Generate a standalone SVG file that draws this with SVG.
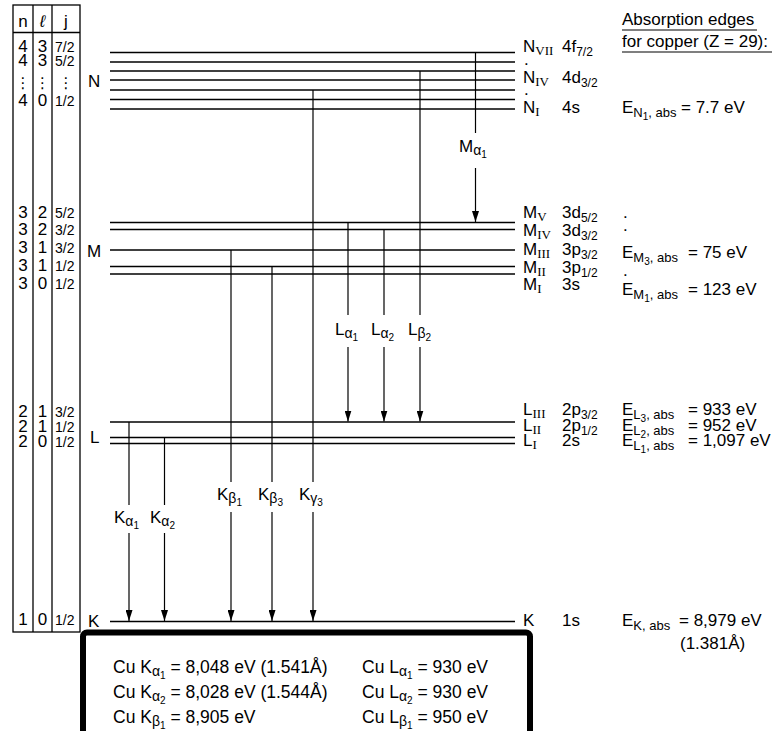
<svg xmlns="http://www.w3.org/2000/svg" width="777" height="731" viewBox="0 0 777 731">
<defs>
<style>
text{font-family:"Liberation Sans",Arial,"DejaVu Sans",sans-serif;font-size:17px;fill:#000}
.j{font-size:14px}
.d{font-size:15px;font-family:"DejaVu Sans",sans-serif}
.r{font-family:"Liberation Serif","Times New Roman",serif;font-size:13px}
.s{font-size:12px}
.e{font-size:13px}
.g{font-size:14px}
.ss{font-size:10px}
.bx{font-size:17.5px}
.lv{stroke:#000;stroke-width:1.3}
.tb{stroke:#000;stroke-width:1.3;fill:none}
.ar{stroke:#000;stroke-width:1.2;fill:none}
</style>
<marker id="ah" markerUnits="userSpaceOnUse" markerWidth="11" markerHeight="7" refX="11" refY="3.5" orient="auto">
<path d="M0,0 L11,3.5 L0,7 z" fill="#000"/>
</marker>
</defs>
<rect width="777" height="731" fill="#fff"/>

<g id="table">
<rect class="tb" x="13" y="5" width="67" height="627"/>
<line class="tb" x1="33" y1="5" x2="33" y2="632"/>
<line class="tb" x1="52" y1="5" x2="52" y2="632"/>
<line class="tb" x1="13" y1="32.5" x2="80" y2="32.5"/>
<text x="23" y="27" text-anchor="middle">n</text>
<text x="42.5" y="27" text-anchor="middle" font-style="italic">ℓ</text>
<text x="66" y="27" text-anchor="middle">j</text>
<!-- N -->
<text x="23" y="52" text-anchor="middle">4</text><text x="42.5" y="52" text-anchor="middle">3</text><text class="j" x="55" y="52">7/2</text>
<text x="23" y="66" text-anchor="middle">4</text><text x="42.5" y="66" text-anchor="middle">3</text><text class="j" x="55" y="66">5/2</text>
<text class="d" x="23" y="88" text-anchor="middle">⋮</text><text class="d" x="42.5" y="88" text-anchor="middle">⋮</text><text class="d" x="66" y="88" text-anchor="middle">⋮</text>
<text x="23" y="106" text-anchor="middle">4</text><text x="42.5" y="106" text-anchor="middle">0</text><text class="j" x="55" y="106">1/2</text>
<!-- M -->
<text x="23" y="218" text-anchor="middle">3</text><text x="42.5" y="218" text-anchor="middle">2</text><text class="j" x="55" y="218">5/2</text>
<text x="23" y="235" text-anchor="middle">3</text><text x="42.5" y="235" text-anchor="middle">2</text><text class="j" x="55" y="235">3/2</text>
<text x="23" y="253" text-anchor="middle">3</text><text x="42.5" y="253" text-anchor="middle">1</text><text class="j" x="55" y="253">3/2</text>
<text x="23" y="271" text-anchor="middle">3</text><text x="42.5" y="271" text-anchor="middle">1</text><text class="j" x="55" y="271">1/2</text>
<text x="23" y="289" text-anchor="middle">3</text><text x="42.5" y="289" text-anchor="middle">0</text><text class="j" x="55" y="289">1/2</text>
<!-- L -->
<text x="23" y="417" text-anchor="middle">2</text><text x="42.5" y="417" text-anchor="middle">1</text><text class="j" x="55" y="417">3/2</text>
<text x="23" y="432" text-anchor="middle">2</text><text x="42.5" y="432" text-anchor="middle">1</text><text class="j" x="55" y="432">1/2</text>
<text x="23" y="447" text-anchor="middle">2</text><text x="42.5" y="447" text-anchor="middle">0</text><text class="j" x="55" y="447">1/2</text>
<!-- K -->
<text x="23" y="625" text-anchor="middle">1</text><text x="42.5" y="625" text-anchor="middle">0</text><text class="j" x="55" y="625">1/2</text>
</g>

<g id="shell-labels">
<text x="88" y="87">N</text>
<text x="87" y="257">M</text>
<text x="90" y="443">L</text>
<text x="88" y="627">K</text>
</g>

<g id="levels">
<line class="lv" x1="110" y1="52.5" x2="515" y2="52.5"/>
<line class="lv" x1="110" y1="62" x2="515" y2="62"/>
<line class="lv" x1="110" y1="71" x2="515" y2="71"/>
<line class="lv" x1="110" y1="80" x2="515" y2="80"/>
<line class="lv" x1="110" y1="90" x2="515" y2="90"/>
<line class="lv" x1="110" y1="99.5" x2="515" y2="99.5"/>
<line class="lv" x1="110" y1="109" x2="515" y2="109"/>
<line class="lv" x1="110" y1="222.5" x2="515" y2="222.5"/>
<line class="lv" x1="110" y1="229.5" x2="515" y2="229.5"/>
<line class="lv" x1="110" y1="250" x2="515" y2="250"/>
<line class="lv" x1="110" y1="266.5" x2="515" y2="266.5"/>
<line class="lv" x1="110" y1="274" x2="515" y2="274"/>
<line class="lv" x1="110" y1="422" x2="515" y2="422"/>
<line class="lv" x1="110" y1="437.5" x2="515" y2="437.5"/>
<line class="lv" x1="110" y1="443.5" x2="515" y2="443.5"/>
<line class="lv" x1="110" y1="621.5" x2="515" y2="621.5"/>
</g>

<g id="level-labels">
<text x="523" y="52">N<tspan class="r" dy="3">VII</tspan><tspan dy="-3" x="562">4f</tspan><tspan class="s" dy="4">7/2</tspan></text>
<text x="524" y="65" font-size="9">.</text>
<text x="523" y="83">N<tspan class="r" dy="3">IV</tspan><tspan dy="-3" x="562">4d</tspan><tspan class="s" dy="4">3/2</tspan></text>
<text x="524" y="95" font-size="9">.</text>
<text x="523" y="113">N<tspan class="r" dy="3">I</tspan><tspan dy="-3" x="562">4s</tspan></text>

<text x="523" y="218">M<tspan class="r" dy="3">V</tspan><tspan dy="-3" x="562">3d</tspan><tspan class="s" dy="4">5/2</tspan></text>
<text x="523" y="236">M<tspan class="r" dy="3">IV</tspan><tspan dy="-3" x="562">3d</tspan><tspan class="s" dy="4">3/2</tspan></text>
<text x="523" y="255">M<tspan class="r" dy="3">III</tspan><tspan dy="-3" x="562">3p</tspan><tspan class="s" dy="4">3/2</tspan></text>
<text x="523" y="273">M<tspan class="r" dy="3">II</tspan><tspan dy="-3" x="562">3p</tspan><tspan class="s" dy="4">1/2</tspan></text>
<text x="523" y="290">M<tspan class="r" dy="3">I</tspan><tspan dy="-3" x="562">3s</tspan></text>

<text x="523" y="415">L<tspan class="r" dy="3">III</tspan><tspan dy="-3" x="562">2p</tspan><tspan class="s" dy="4">3/2</tspan></text>
<text x="523" y="431">L<tspan class="r" dy="3">II</tspan><tspan dy="-3" x="562">2p</tspan><tspan class="s" dy="4">1/2</tspan></text>
<text x="523" y="446">L<tspan class="r" dy="3">I</tspan><tspan dy="-3" x="562">2s</tspan></text>

<text x="523" y="626">K<tspan x="562">1s</tspan></text>
</g>

<g id="edges">
<text x="622" y="25">Absorption edges</text>
<line x1="622" y1="30" x2="757" y2="30" stroke="#000" stroke-width="1.2"/>
<text x="622" y="47">for copper (Z = 29):</text>
<line x1="622" y1="52" x2="772" y2="52" stroke="#000" stroke-width="1.2"/>

<text x="622" y="113">E<tspan class="e" dy="4">N</tspan><tspan class="ss" dy="3">1</tspan><tspan class="e" dy="-3">, abs</tspan></text>
<text x="681" y="113">= 7.7 eV</text>

<text x="623" y="218" font-size="9">.</text>
<text x="623" y="231" font-size="9">.</text>
<text x="622" y="258">E<tspan class="e" dy="4">M</tspan><tspan class="ss" dy="3">3</tspan><tspan class="e" dy="-3">, abs</tspan></text>
<text x="688" y="258">= 75 eV</text>
<text x="623" y="276" font-size="9">.</text>
<text x="622" y="295">E<tspan class="e" dy="4">M</tspan><tspan class="ss" dy="3">1</tspan><tspan class="e" dy="-3">, abs</tspan></text>
<text x="688" y="295">= 123 eV</text>

<text x="622" y="415">E<tspan class="e" dy="4">L</tspan><tspan class="ss" dy="3">3</tspan><tspan class="e" dy="-3">, abs</tspan></text>
<text x="688" y="415">= 933 eV</text>
<text x="622" y="431">E<tspan class="e" dy="4">L</tspan><tspan class="ss" dy="3">2</tspan><tspan class="e" dy="-3">, abs</tspan></text>
<text x="688" y="431">= 952 eV</text>
<text x="622" y="446">E<tspan class="e" dy="4">L</tspan><tspan class="ss" dy="3">1</tspan><tspan class="e" dy="-3">, abs</tspan></text>
<text x="688" y="446">= 1,097 eV</text>

<text x="622" y="626">E<tspan class="e" dy="4">K, abs</tspan></text>
<text x="679" y="626">= 8,979 eV</text>
<text x="680" y="649">(1.381Å)</text>
</g>

<g id="connectors">
<line class="ar" x1="475.5" y1="52.5" x2="475.5" y2="133"/>
<line class="ar" x1="475.5" y1="168" x2="475.5" y2="222" marker-end="url(#ah)"/>
<line class="ar" x1="348" y1="222.5" x2="348" y2="315"/>
<line class="ar" x1="348" y1="347" x2="348" y2="421.5" marker-end="url(#ah)"/>
<line class="ar" x1="384" y1="229.5" x2="384" y2="315"/>
<line class="ar" x1="384" y1="347" x2="384" y2="421.5" marker-end="url(#ah)"/>
<line class="ar" x1="420" y1="71" x2="420" y2="315"/>
<line class="ar" x1="420" y1="347" x2="420" y2="421.5" marker-end="url(#ah)"/>
<line class="ar" x1="129" y1="422" x2="129" y2="505"/>
<line class="ar" x1="129" y1="533" x2="129" y2="621" marker-end="url(#ah)"/>
<line class="ar" x1="164.5" y1="437.5" x2="164.5" y2="505"/>
<line class="ar" x1="164.5" y1="533" x2="164.5" y2="621" marker-end="url(#ah)"/>
<line class="ar" x1="231" y1="250" x2="231" y2="482"/>
<line class="ar" x1="231" y1="512" x2="231" y2="621" marker-end="url(#ah)"/>
<line class="ar" x1="272" y1="266.5" x2="272" y2="482"/>
<line class="ar" x1="272" y1="512" x2="272" y2="621" marker-end="url(#ah)"/>
<line class="ar" x1="313" y1="90" x2="313" y2="482"/>
<line class="ar" x1="313" y1="512" x2="313" y2="621" marker-end="url(#ah)"/>
</g>

<g id="transition-labels">
<text x="459" y="152">M<tspan class="g" dy="3">α</tspan><tspan class="ss" dy="3">1</tspan></text>
<text x="335" y="335">L<tspan class="g" dy="3">α</tspan><tspan class="ss" dy="3">1</tspan></text>
<text x="371" y="335">L<tspan class="g" dy="3">α</tspan><tspan class="ss" dy="3">2</tspan></text>
<text x="408" y="335">L<tspan class="g" dy="3">β</tspan><tspan class="ss" dy="3">2</tspan></text>
<text x="114" y="523">K<tspan class="g" dy="3">α</tspan><tspan class="ss" dy="3">1</tspan></text>
<text x="150" y="523">K<tspan class="g" dy="3">α</tspan><tspan class="ss" dy="3">2</tspan></text>
<text x="217" y="500">K<tspan class="g" dy="3">β</tspan><tspan class="ss" dy="3">1</tspan></text>
<text x="258" y="500">K<tspan class="g" dy="3">β</tspan><tspan class="ss" dy="3">3</tspan></text>
<text x="299" y="500">K<tspan class="g" dy="3">γ</tspan><tspan class="ss" dy="3">3</tspan></text>
</g>

<g id="values-box">
<rect x="83" y="632.5" width="447" height="150" rx="4" fill="#fff" stroke="#000" stroke-width="6"/>
<text class="bx" x="113" y="673">Cu K<tspan class="g" dy="3">α</tspan><tspan class="ss" dy="3">1</tspan><tspan dy="-6"> = 8,048 eV (1.541Å)</tspan></text>
<text class="bx" x="113" y="698">Cu K<tspan class="g" dy="3">α</tspan><tspan class="ss" dy="3">2</tspan><tspan dy="-6"> = 8,028 eV (1.544Å)</tspan></text>
<text class="bx" x="113" y="723">Cu K<tspan class="g" dy="3">β</tspan><tspan class="ss" dy="3">1</tspan><tspan dy="-6"> = 8,905 eV</tspan></text>
<text class="bx" x="362" y="673">Cu L<tspan class="g" dy="3">α</tspan><tspan class="ss" dy="3">1</tspan><tspan dy="-6"> = 930 eV</tspan></text>
<text class="bx" x="362" y="698">Cu L<tspan class="g" dy="3">α</tspan><tspan class="ss" dy="3">2</tspan><tspan dy="-6"> = 930 eV</tspan></text>
<text class="bx" x="362" y="723">Cu L<tspan class="g" dy="3">β</tspan><tspan class="ss" dy="3">1</tspan><tspan dy="-6"> = 950 eV</tspan></text>
</g>
</svg>
